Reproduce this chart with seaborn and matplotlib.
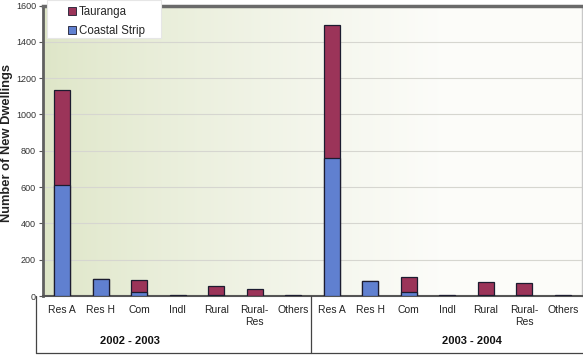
import numpy as np
import pandas as pd
import matplotlib
matplotlib.use("Agg")
import matplotlib.pyplot as plt
import seaborn as sns
from matplotlib.patches import Patch, Rectangle
from matplotlib.lines import Line2D

categories = ["Res A", "Res H", "Com", "Indl", "Rural", "Rural-\nRes", "Others"]
periods = ["2002 - 2003", "2003 - 2004"]
coastal_2002 = [612, 94, 20, 1, 3, 2, 1]
tauranga_2002 = [525, 0, 68, 4, 54, 38, 4]
coastal_2003 = [760, 84, 20, 1, 5, 3, 1]
tauranga_2003 = [735, 0, 85, 4, 70, 69, 4]
yticks = [0, 200, 400, 600, 800, 1000, 1200, 1400, 1600]

rows = []
for per, cs, ts in [(periods[0], coastal_2002, tauranga_2002), (periods[1], coastal_2003, tauranga_2003)]:
    for c, cv, tv in zip(categories, cs, ts):
        rows.append({"key": per + "|" + c, "period": per, "cat": c,
                     "Coastal Strip": cv, "Tauranga": tv, "total": cv + tv})
df = pd.DataFrame(rows)
order = list(df["key"])

sns.set_style("white")
plt.rcParams["font.family"] = ["Liberation Sans", "DejaVu Sans"]

MAROON = "#9b3459"
BLUE = "#6080d0"
EDGE = "#1c1c30"

fig = plt.figure(figsize=(5.83, 3.55), dpi=100)
W, H = 583, 355
L, R, T, B = 43, 582, 5.5, 296
ax = fig.add_axes([L / W, 1 - B / H, (R - L) / W, (B - T) / H])

# gradient background
grad = np.linspace(0, 1, 256)
g = np.clip(grad / 0.75, 0, 1) ** 0.8
c0 = np.array([0.87, 0.90, 0.78])
c1 = np.array([0.99, 0.99, 0.98])
img = (c0[None, :] * (1 - g[:, None]) + c1[None, :] * g[:, None])[None, :, :]
ax.imshow(img, extent=[-0.5, 13.5, 0, 1600], aspect="auto", zorder=0)

for yv in yticks[1:-1]:
    ax.axhline(yv, color="#d6d6d0", lw=0.8, zorder=1)

sns.barplot(data=df, x="key", y="total", order=order, color=MAROON, width=0.41,
            edgecolor=EDGE, linewidth=0.9, saturation=1, ax=ax, zorder=3)
sns.barplot(data=df, x="key", y="Coastal Strip", order=order, color=BLUE, width=0.41,
            edgecolor=EDGE, linewidth=0.9, saturation=1, ax=ax, zorder=4)

ax.set_xlim(-0.5, 13.5)
ax.set_ylim(0, 1600)
ax.set_yticks(yticks)
ax.set_yticklabels([str(v) for v in yticks], fontsize=6.5, color="#333333")
ax.tick_params(axis="y", length=3, width=0.8, color="#555555", pad=2, left=True)
ax.set_xticks([])
ax.set_xlabel("")
ax.set_ylabel("")

ax.spines["left"].set_color("#606060"); ax.spines["left"].set_linewidth(2)
ax.spines["top"].set_color("#6a6a6a"); ax.spines["top"].set_linewidth(2.5)
ax.spines["bottom"].set_color("#555555"); ax.spines["bottom"].set_linewidth(1.5)
ax.spines["right"].set_color("#c8c8c8"); ax.spines["right"].set_linewidth(1)

tr = ax.get_xaxis_transform()
def yfrac(py):
    return (B - py) / (B - T)

for i, row in df.iterrows():
    ax.text(i, yfrac(305), row["cat"], transform=tr, ha="center", va="top",
            fontsize=7.5, color="#222222", linespacing=1.3, clip_on=False)

grp_x = [(130 - L) / 38.5 - 0.5, (472 - L) / 38.5 - 0.5]
for gx, per in zip(grp_x, periods):
    ax.text(gx, yfrac(341), per, transform=tr, ha="center", va="center",
            fontsize=8, fontweight="bold", color="#111111", clip_on=False)

# hierarchy lines in figure pixels
def fl(x0, y0, x1, y1):
    fig.add_artist(Line2D([x0 / W, x1 / W], [1 - y0 / H, 1 - y1 / H], color="#444444", lw=0.9))
fl(36, 296, 36, 353)
fl(311, 296, 311, 353)
fl(36, 353, 583, 353)

fig.text(7 / W, 1 - 143 / H, "Number of New Dwellings", rotation=90, ha="center", va="center",
         fontsize=9.3, fontweight="bold", color="#222222")

# legend box
fig.add_artist(Rectangle((47 / W, 1 - 38 / H), (161 - 47) / W, 38 / H, transform=fig.transFigure,
                         facecolor="white", edgecolor="#e6e6e6", lw=0.8, zorder=9))
handles = [Patch(facecolor=MAROON, edgecolor=EDGE, lw=0.6, label="Tauranga"),
           Patch(facecolor=BLUE, edgecolor=EDGE, lw=0.6, label="Coastal Strip")]
leg = fig.legend(handles=handles, loc="upper left", bbox_to_anchor=(68 / W, 1 - 6 / H),
                 fontsize=8.3, frameon=False, handlelength=0.7, handleheight=0.7,
                 handletextpad=0.25, borderpad=0.0, labelspacing=0.65, borderaxespad=0)
leg.set_zorder(10)

fig.savefig("out.png", dpi=100, facecolor="white")
